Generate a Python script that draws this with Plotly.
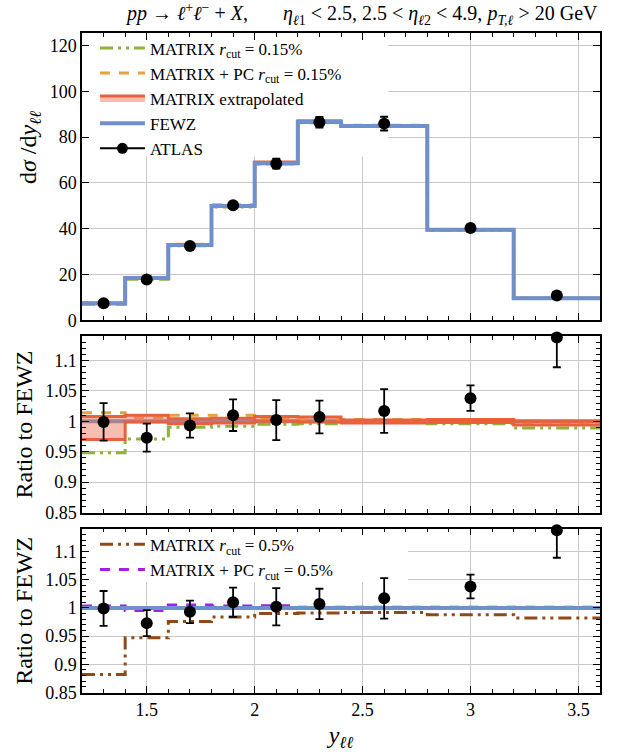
import plotly.graph_objects as go

# ---------------- data ----------------
edges = [1.2, 1.4, 1.6, 1.8, 2.0, 2.2, 2.4, 2.8, 3.2, 3.6]
atlas_x = [1.3, 1.5, 1.7, 1.9, 2.1, 2.3, 2.6, 3.0, 3.4]

fewz_xsec = [7.4, 18.4, 32.9, 49.9, 68.6, 86.6, 84.9, 39.5, 9.6]
atlas_xsec = [7.4, 17.8, 32.4, 50.2, 68.4, 86.5, 85.9, 40.3, 10.8]
atlas_xsec_err = [0.3, 0.4, 0.7, 1.3, 2.2, 2.3, 3.0, 0.8, 0.5]

atlas_ratio = [0.999, 0.973, 0.993, 1.010, 1.002, 1.007, 1.017, 1.038, 1.138]
atlas_ratio_err = [0.031, 0.023, 0.020, 0.026, 0.033, 0.027, 0.036, 0.021, 0.049]

fewz_ratio = [1.0, 1.0, 1.0, 1.0, 1.0, 1.0, 1.0, 1.0, 1.0]
matrix015_ratio = [0.948, 0.971, 0.990, 0.992, 0.995, 0.996, 0.998, 0.996, 0.989]
matrixpc015_ratio = [1.014, 1.006, 1.010, 1.010, 1.003, 1.002, 1.003, 1.003, 0.998]
extrap_lo = [0.970, 0.999, 0.996, 0.997, 1.000, 0.999, 0.997, 0.998, 0.994]
extrap_hi = [1.008, 1.010, 1.004, 1.005, 1.008, 1.007, 1.002, 1.003, 1.000]
matrix05_ratio = [0.882, 0.947, 0.976, 0.984, 0.990, 0.991, 0.992, 0.988, 0.982]
matrixpc05_ratio = [1.0035, 0.9955, 1.005, 1.0035, 1.004, 1.001, 1.001, 1.001, 1.001]

# ---------------- style ----------------
C_GREEN = "#8db33a"
C_ORANGE = "#e6a23c"
C_RED = "#e8603c"
C_FILL = "rgba(236,110,80,0.45)"
C_BLUE = "#7090cc"
C_BROWN = "#8f4a17"
C_PURPLE = "#a21fe6"
FONT = "Liberation Serif, DejaVu Serif, serif"
DASHDOTDOT = "13px,5px,3px,5px,3px,5px"
DASH = "10px,9px"
LEG_SIZE = 17


def step(v):
    return list(v) + [v[-1]]


def times(a, b):
    return [x * y for x, y in zip(a, b)]


fig = go.Figure()


def add_step(y, xa, ya, color, width, dash="solid", name=None, legend="legend", showlegend=False):
    fig.add_trace(go.Scatter(
        x=edges, y=step(y), xaxis=xa, yaxis=ya, mode="lines", line_shape="hv",
        line=dict(color=color, width=width, dash=dash), name=name,
        legend=legend, showlegend=showlegend, hoverinfo="skip"))


def add_band(lo, hi, xa, ya, name=None, showlegend=False):
    fig.add_trace(go.Scatter(
        x=edges, y=step(hi), xaxis=xa, yaxis=ya, mode="lines", line_shape="hv",
        line=dict(color=C_RED, width=3), showlegend=False, hoverinfo="skip"))
    fig.add_trace(go.Scatter(
        x=edges, y=step(lo), xaxis=xa, yaxis=ya, mode="lines", line_shape="hv",
        line=dict(color=C_RED, width=3), fill="tonexty", fillcolor=C_FILL,
        name=name, showlegend=showlegend, legend="legend", hoverinfo="skip"))


def add_atlas(y, err, xa, ya):
    fig.add_trace(go.Scatter(
        x=atlas_x, y=y, xaxis=xa, yaxis=ya, mode="markers",
        marker=dict(color="black", size=12),
        error_y=dict(type="data", array=err, color="black", thickness=1.8, width=4),
        cliponaxis=False, showlegend=False, hoverinfo="skip"))


# ---- top panel ----
add_step(times(matrix015_ratio, fewz_xsec), "x", "y", C_GREEN, 3, DASHDOTDOT,
         "MATRIX <i>r</i><sub>cut</sub> = 0.15%", showlegend=True)
add_step(times(matrixpc015_ratio, fewz_xsec), "x", "y", C_ORANGE, 3, DASH,
         "MATRIX + PC <i>r</i><sub>cut</sub> = 0.15%", showlegend=True)
add_band(times(extrap_lo, fewz_xsec), times(extrap_hi, fewz_xsec), "x", "y",
         "MATRIX extrapolated", showlegend=True)
add_step(fewz_xsec, "x", "y", C_BLUE, 4, "solid", "FEWZ", showlegend=True)
add_atlas(atlas_xsec, atlas_xsec_err, "x", "y")
fig.add_trace(go.Scatter(x=[None], y=[None], xaxis="x", yaxis="y", mode="lines+markers",
                         line=dict(color="black", width=2), marker=dict(color="black", size=11),
                         name="ATLAS", legend="legend", showlegend=True))

# ---- middle panel ----
add_step(fewz_ratio, "x2", "y2", C_BLUE, 4)
add_step(matrix015_ratio, "x2", "y2", C_GREEN, 3, DASHDOTDOT)
add_step(matrixpc015_ratio, "x2", "y2", C_ORANGE, 3, DASH)
add_band(extrap_lo, extrap_hi, "x2", "y2")
add_atlas(atlas_ratio, atlas_ratio_err, "x2", "y2")

# ---- bottom panel ----
add_step(matrix05_ratio, "x3", "y3", C_BROWN, 3, DASHDOTDOT,
         "MATRIX <i>r</i><sub>cut</sub> = 0.5%", legend="legend2", showlegend=True)
add_step(matrixpc05_ratio, "x3", "y3", C_PURPLE, 3, DASH,
         "MATRIX + PC <i>r</i><sub>cut</sub> = 0.5%", legend="legend2", showlegend=True)
add_step(fewz_ratio, "x3", "y3", C_BLUE, 4)
add_atlas(atlas_ratio, atlas_ratio_err, "x3", "y3")

# ---------------- layout ----------------
W, H = 622, 756
mt, mb, ml, mr = 33, 52, 82, 22
ph = H - mt - mb
pw = W - ml - mr


def dom(top_px, bot_px):
    return [(H - mb - bot_px) / ph, (H - mb - top_px) / ph]


d_top = dom(33, 325)
d_mid = dom(341, 521)
d_bot = dom(537, 704)

tickfont = dict(family=FONT, size=18, color="black")
titlefont = dict(family=FONT, size=24, color="black")
common_x = dict(range=[1.2, 3.6], tickmode="linear", tick0=1.5, dtick=0.5,
                ticks="inside", ticklen=7, tickcolor="black", mirror="allticks",
                showline=True, linecolor="black", linewidth=1.5,
                showgrid=True, gridcolor="#c8c8c8", gridwidth=1, zeroline=False,
                minor=dict(tick0=1.2, dtick=0.1, ticks="inside", ticklen=4,
                           tickcolor="black", showgrid=False),
                tickfont=tickfont)
common_ratio_y = dict(range=[0.849, 1.1405], tickmode="array",
                      tickvals=[0.85, 0.9, 0.95, 1.0, 1.05, 1.1],
                      ticktext=["0.85", "0.9", "0.95", "1", "1.05", "1.1"],
                      ticks="inside", ticklen=7, tickcolor="black", mirror="allticks",
                      showline=True, linecolor="black", linewidth=1.5,
                      showgrid=True, gridcolor="#c8c8c8", zeroline=False,
                      minor=dict(tick0=0.85, dtick=0.01, ticks="inside", ticklen=4,
                                 tickcolor="black", showgrid=False),
                      tickfont=tickfont,
                      title=dict(text="Ratio to FEWZ", font=titlefont, standoff=6))

fig.update_layout(
    width=W, height=H,
    margin=dict(l=ml, r=mr, t=mt, b=mb),
    paper_bgcolor="white", plot_bgcolor="white",
    font=dict(family=FONT, color="black"),
    xaxis=dict(common_x, anchor="y", domain=[0, 1], showticklabels=False),
    xaxis2=dict(common_x, anchor="y2", domain=[0, 1], showticklabels=False, matches="x"),
    xaxis3=dict(common_x, anchor="y3", domain=[0, 1], matches="x",
                title=dict(text="<i>y</i><sub><i>ℓℓ</i></sub>", font=titlefont, standoff=7)),
    yaxis=dict(range=[0, 125.5], domain=d_top, tickmode="linear", tick0=0, dtick=20,
               ticks="inside", ticklen=7, tickcolor="black", mirror="allticks",
               showline=True, linecolor="black", linewidth=1.5,
               showgrid=True, gridcolor="#c8c8c8", zeroline=False, tickfont=tickfont),
    yaxis2=dict(common_ratio_y, domain=d_mid, anchor="x2"),
    yaxis3=dict(common_ratio_y, domain=d_bot, anchor="x3"),
    legend=dict(x=0.025, y=1.004, xanchor="left", yanchor="top", xref="paper", yref="paper",
                bgcolor="rgba(255,255,255,0)", font=dict(family=FONT, size=LEG_SIZE, color="black"),
                itemwidth=45, tracegroupgap=0, borderwidth=0, traceorder="normal"),
    legend2=dict(x=0.025, y=d_bot[1] + 0.003, xanchor="left", yanchor="top", xref="paper", yref="paper",
                 bgcolor="rgba(255,255,255,0)", font=dict(family=FONT, size=LEG_SIZE, color="black"),
                 itemwidth=45, tracegroupgap=0, borderwidth=0, traceorder="normal"),
    showlegend=True,
)

# white legend frames, drawn between the grid and the data (as in the original)
fig.add_shape(type="rect", xref="x", yref="y", x0=1.2, x1=2.62, y0=71.5, y1=125.5,
              fillcolor="white", line=dict(width=0), layer="between")
fig.add_shape(type="rect", xref="x3", yref="y3", x0=1.2, x1=2.71, y0=1.045, y1=1.1405,
              fillcolor="white", line=dict(width=0), layer="between")

# y-axis title of the top panel
fig.add_annotation(
    xref="paper", yref="paper", x=(30 - ml) / pw, y=(H - mb - 150) / ph,
    xanchor="center", yanchor="middle", textangle=-90, showarrow=False,
    text="d<i>σ</i> /d<i>y</i><sub><i>ℓℓ</i></sub>", font=titlefont)

# header
NB = "\u00a0"
fig.add_annotation(
    xref="paper", yref="paper", x=1.0, y=1.0, xanchor="right", yanchor="bottom", yshift=3,
    showarrow=False,
    text="<i>pp</i> → <i>ℓ</i><sup>+</sup><i>ℓ</i><sup>−</sup> + <i>X</i>," + NB * 7 +
         "<i>η</i><sub><i>ℓ</i>1</sub> < 2.5, 2.5 < <i>η</i><sub><i>ℓ</i>2</sub> < 4.9, "
         "<i>p</i><sub><i>T,ℓ</i></sub> > 20 GeV",
    font=dict(family=FONT, size=20, color="black"))

fig.write_html("out.html")
